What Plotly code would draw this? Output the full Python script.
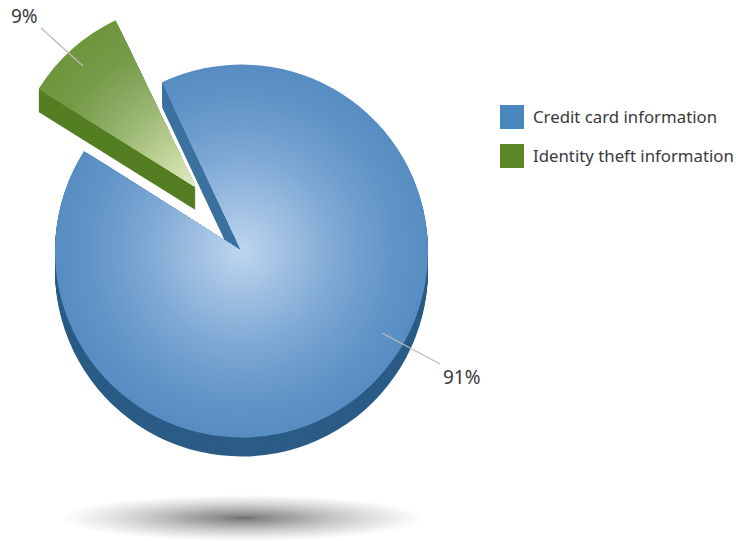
import plotly.graph_objects as go

W, H = 736, 541

# Chart data
categories = ["Credit card information", "Identity theft information"]
shares = [91, 9]
share_labels = ["91%", "9%"]
legend_colors = ["#4b87bf", "#5c8726"]

HIDDEN = "rgba(0,0,0,0)"
START_ANGLE = -25.2
EXPLODED_ANGLE = -25.6
# Leading part of the main slice whose cut wall is painted in the lighter tone
WALL_ARC = 6


def px(x):
    return x / W


def py(y):
    return 1 - y / H


def mix(stops, t):
    """Interpolate a colour along a list of (position, rgb) stops."""
    for (p0, c0), (p1, c1) in zip(stops, stops[1:]):
        if t <= p1:
            f = (t - p0) / (p1 - p0)
            return "rgb(%d,%d,%d)" % tuple(round(a + (b - a) * f) for a, b in zip(c0, c1))
    return "rgb(%d,%d,%d)" % stops[-1][1]


def disc(cx, cy, r, colors, rotation=START_ANGLE, values=shares):
    """One pie disc centred at pixel (cx, cy) with pixel radius r."""
    return go.Pie(
        values=values,
        sort=False,
        direction="clockwise",
        rotation=rotation,
        marker=dict(colors=colors, line=dict(width=0)),
        textinfo="none",
        hoverinfo="skip",
        showlegend=False,
        domain=dict(x=[px(cx - r), px(cx + r)], y=[py(cy + r), py(cy - r)]),
    )


fig = go.Figure()

# Main slice: extruded rim, cut wall, then the shaded top face
CX, CY, R = 241.5, 251, 186.5
RIM, WALL = 19, 25
for d in range(RIM, 0, -1):
    fig.add_trace(disc(CX, CY + d, R, ["#2b5c86", HIDDEN]))
wall_values = [WALL_ARC, shares[0] - WALL_ARC, shares[1]]
for d in range(WALL, 0, -1):
    fig.add_trace(disc(CX, CY + d, R, ["#3c719f", HIDDEN, HIDDEN], values=wall_values))

blue = [(0, (190, 215, 240)), (0.25, (160, 192, 226)), (0.55, (122, 166, 211)),
        (0.85, (96, 147, 198)), (1, (88, 141, 195))]
LAYERS = 46
for i in range(LAYERS):
    t = 1 - i / LAYERS
    fig.add_trace(disc(CX, CY, R * t, [mix(blue, t), HIDDEN]))

# Exploded slice: wall, then shaded top face
GX, GY, GR = 195.5, 187, 185
for d in range(23, 0, -1):
    fig.add_trace(disc(GX, GY + d, GR, [HIDDEN, "#557e23"], EXPLODED_ANGLE))

green = [(0, (226, 236, 198)), (0.2, (198, 216, 158)), (0.5, (152, 182, 114)),
         (0.8, (117, 155, 72)), (1, (110, 150, 60))]
for i in range(LAYERS):
    t = 1 - i / LAYERS
    fig.add_trace(disc(GX, GY, GR * t, [HIDDEN, mix(green, t)], EXPLODED_ANGLE))

shapes = []

# Soft ground shadow built from stacked translucent ellipses
SX, SY, SRX, SRY = 243, 518, 180, 23
steps = 70
for i in range(steps):
    t = 1 - i / steps
    s = t ** 2.2
    shapes.append(dict(type="circle", xref="paper", yref="paper",
                       x0=px(SX - SRX * s), x1=px(SX + SRX * s),
                       y0=py(SY + SRY * s), y1=py(SY - SRY * s),
                       fillcolor="#2a2a2a", opacity=0.0118, line=dict(width=0),
                       layer="below"))

# Leader lines
for x0, y0, x1, y1 in [(382, 333, 440, 364), (41, 28, 83, 66)]:
    shapes.append(dict(type="line", xref="paper", yref="paper",
                       x0=px(x0), y0=py(y0), x1=px(x1), y1=py(y1),
                       line=dict(color="#bcbcbc", width=1.3)))

# Legend swatches
for (y0, color) in zip([105, 144], legend_colors):
    shapes.append(dict(type="rect", xref="paper", yref="paper",
                       x0=px(500), x1=px(524), y0=py(y0 + 24), y1=py(y0),
                       fillcolor=color, line=dict(width=0)))

FONT = "Noto Sans"
TEXT = "#3a3a3a"
annotations = []
for label, y in zip(categories, [116.5, 155.5]):
    annotations.append(dict(text=label, xref="paper", yref="paper", x=px(531), y=py(y),
                            xanchor="left", yanchor="middle", showarrow=False,
                            font=dict(family=FONT, size=16.8, color=TEXT)))
for label, x, y in zip(share_labels, [462, 24], [377, 16]):
    annotations.append(dict(text=label, xref="paper", yref="paper", x=px(x), y=py(y),
                            xanchor="center", yanchor="middle", showarrow=False,
                            font=dict(family=FONT, size=19, color=TEXT)))

fig.update_layout(
    width=W, height=H,
    margin=dict(l=0, r=0, t=0, b=0),
    paper_bgcolor="white",
    showlegend=False,
    shapes=shapes,
    annotations=annotations,
)

fig.write_html("out.html", config=dict(displayModeBar=False))
